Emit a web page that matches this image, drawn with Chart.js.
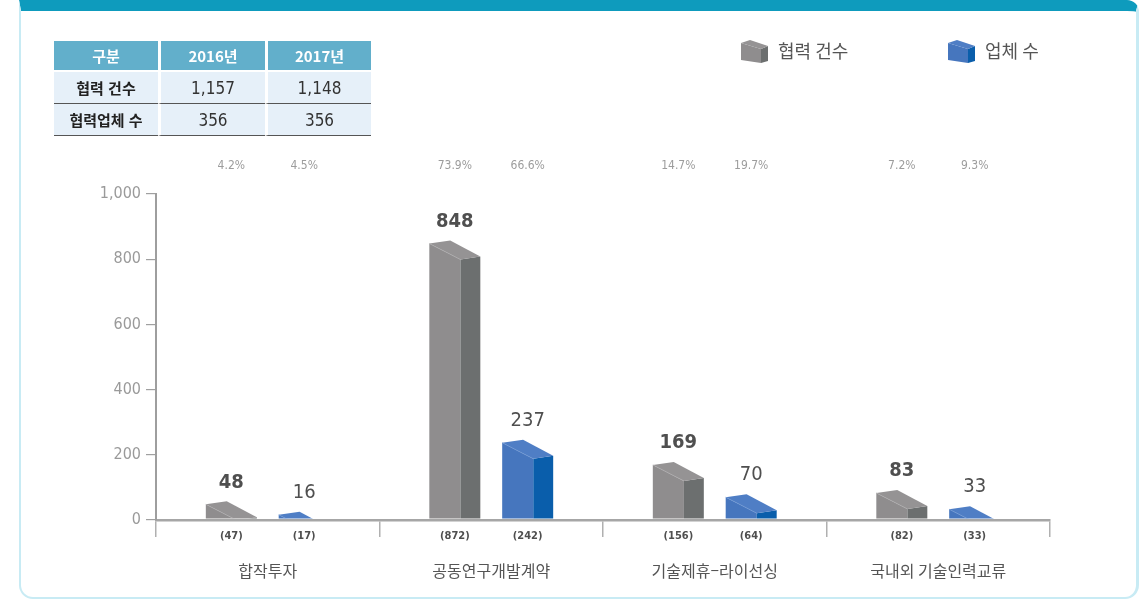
<!DOCTYPE html>
<html lang="ko">
<head>
<meta charset="utf-8">
<script src="https://cdn.jsdelivr.net/npm/chart.js@4.4.1/dist/chart.umd.min.js"></script>
<style>
  html, body { margin:0; padding:0; background:#fff; width:1147px; height:600px; overflow:hidden; }
  #wrap { position:relative; width:1147px; height:600px; }
  #frame { position:absolute; left:19px; top:0; width:1115px; height:586px;
           border-left:2px solid #c8ebf4; border-right:3px solid #c8ebf4; border-bottom:2px solid #c8ebf4;
           border-top:11px solid #0e9bbd; border-radius:0 12px 14px 14px; box-sizing:content-box; }
  canvas { position:absolute; left:0; top:0; }
  table { position:absolute; left:54px; top:41px; border-collapse:separate; border-spacing:0;
          font-family:"Noto Sans CJK KR","Noto Sans",sans-serif; }
  td, th { text-align:center; padding:0; }
  th { background:#62afcb; color:#fff; font-weight:700; font-size:15px; height:29px; border-bottom:2px solid #fff; }
  td { background:#e6f0f9; height:31px; border-bottom:1px solid #555; color:#333; font-size:17px; font-family:"DejaVu Sans Condensed","Roboto","Noto Sans CJK KR",sans-serif; }
  td.lab { font-weight:700; font-size:15px; color:#222; font-family:"Noto Sans CJK KR",sans-serif; }
  .gap { border-left:3px solid #fff; }
</style>
</head>
<body>
<div id="wrap">
  <div id="frame"></div>
  <canvas id="c" width="1147" height="600"></canvas>
  <table id="tbl"></table>
</div>
<script>
// ---- data ----
const categories = ['합작투자', '공동연구개발계약', '기술제휴–라이선싱', '국내외 기술인력교류'];
const seriesNames = ['협력 건수', '업체 수'];
const cooperationCounts = [48, 848, 169, 83];      // 2017 협력 건수
const companyCounts = [16, 237, 70, 33];           // 2017 업체 수
const prevCooperation = ['(47)', '(872)', '(156)', '(82)'];
const prevCompany = ['(17)', '(242)', '(64)', '(33)'];
const cooperationShare = ['4.2%', '73.9%', '14.7%', '7.2%'];
const companyShare = ['4.5%', '66.6%', '19.7%', '9.3%'];
const yTickMax = 1000;
const yTickStep = 200;
const tableHeader = ['구분', '2016년', '2017년'];
const tableRowLabels = ['협력 건수', '협력업체 수'];
const tableValues2016 = ['1,157', '356'];
const tableValues2017 = ['1,148', '356'];

// ---- table ----
(function(){
  const t = document.getElementById('tbl');
  const widths = [104, 104, 103];
  let h = '<tr>' + tableHeader.map((s,i)=>`<th class="${i?'gap':''}" style="width:${widths[i]}px">${s}</th>`).join('') + '</tr>';
  tableRowLabels.forEach((lab, r) => {
    h += `<tr><td class="lab">${lab}</td><td class="gap">${tableValues2016[r]}</td><td class="gap">${tableValues2017[r]}</td></tr>`;
  });
  t.innerHTML = h;
})();

const palettes = [
  { front:'#8f8d8e', top:'#959394', side:'#6c6f6f', edge:'#aeacad' },
  { front:'#4676be', top:'#4f7ec5', side:'#0a5eab', edge:'#7098d2' }
];

function draw3DBar(ctx, x, y, width, base, pal, topClip) {
  const xL = x - width / 2, xR = x + width / 2;
  const xM = xL + width * 0.61;
  const xB = xL + width * 0.41;
  ctx.save();
  ctx.beginPath();
  ctx.rect(xL - 5, topClip, width + 10, base - topClip - 1);
  ctx.clip();
  ctx.fillStyle = pal.front;
  ctx.beginPath();
  ctx.moveTo(xL, y); ctx.lineTo(xM, y + 16); ctx.lineTo(xM, base); ctx.lineTo(xL, base); ctx.closePath();
  ctx.fill();
  ctx.fillStyle = pal.side;
  ctx.beginPath();
  ctx.moveTo(xM, y + 16); ctx.lineTo(xR, y + 13); ctx.lineTo(xR, base); ctx.lineTo(xM, base); ctx.closePath();
  ctx.fill();
  ctx.fillStyle = pal.top;
  ctx.beginPath();
  ctx.moveTo(xL, y); ctx.lineTo(xB, y - 3); ctx.lineTo(xR, y + 13); ctx.lineTo(xM, y + 16); ctx.closePath();
  ctx.fill();
  ctx.strokeStyle = pal.edge; ctx.lineWidth = 0.7;
  ctx.beginPath(); ctx.moveTo(xL, y); ctx.lineTo(xM, y + 16); ctx.stroke();
  ctx.restore();
}

function drawCube(ctx, x, y, pal) {
  ctx.fillStyle = pal.front;
  ctx.beginPath();
  ctx.moveTo(x, y + 3); ctx.lineTo(x + 20, y + 9); ctx.lineTo(x + 20, y + 23); ctx.lineTo(x, y + 20); ctx.closePath(); ctx.fill();
  ctx.fillStyle = pal.side;
  ctx.beginPath();
  ctx.moveTo(x + 20, y + 9); ctx.lineTo(x + 27, y + 6); ctx.lineTo(x + 27, y + 21); ctx.lineTo(x + 20, y + 23); ctx.closePath(); ctx.fill();
  ctx.fillStyle = pal.top;
  ctx.beginPath();
  ctx.moveTo(x, y + 3); ctx.lineTo(x + 9, y); ctx.lineTo(x + 27, y + 6); ctx.lineTo(x + 20, y + 9); ctx.closePath(); ctx.fill();
}

const barPlugin = {
  id: 'bar3d',
  afterDatasetsDraw(chart) {
    const ctx = chart.ctx;
    const area = chart.chartArea;
    const shares = [cooperationShare, companyShare];
    const prevs = [prevCooperation, prevCompany];
    chart.data.datasets.forEach((ds, di) => {
      const meta = chart.getDatasetMeta(di);
      meta.data.forEach((bar, i) => {
        const p = bar.getProps(['x', 'y', 'base', 'width'], true);
        draw3DBar(ctx, p.x, p.y, p.width, p.base, palettes[di], area.top - 40);
        ctx.save();
        ctx.fillStyle = '#4f4f4f';
        ctx.textAlign = 'center';
        ctx.textBaseline = 'middle';
        ctx.font = (di === 0 ? '700 ' : '500 ') + '20px "DejaVu Sans Condensed", Roboto, sans-serif';
        ctx.fillText(String(ds.data[i]), p.x, p.y - 22);
        ctx.fillStyle = '#9c9c9c';
        ctx.font = '12px "DejaVu Sans Condensed", Roboto, sans-serif';
        ctx.fillText(shares[di][i], p.x, 166);
        ctx.fillStyle = '#4f4f4f';
        ctx.font = '600 11px "DejaVu Sans Condensed", Roboto, sans-serif';
        ctx.fillText(prevs[di][i], p.x, p.base + 17);
        ctx.restore();
      });
    });
    const xs = chart.scales.x;
    ctx.save();
    ctx.fillStyle = '#555';
    ctx.textAlign = 'center';
    ctx.textBaseline = 'middle';
    ctx.font = '16px "Noto Sans CJK KR", sans-serif';
    categories.forEach((c, i) => ctx.fillText(c, xs.getPixelForValue(i), 571));
    ctx.restore();
    ctx.save();
    ctx.textBaseline = 'middle';
    ctx.textAlign = 'left';
    ctx.font = '18px "Noto Sans CJK KR", sans-serif';
    const lx = [741, 948];
    seriesNames.forEach((n, i) => {
      drawCube(ctx, lx[i], 40, palettes[i]);
      ctx.fillStyle = '#555';
      ctx.fillText(n, lx[i] + 37, 51);
    });
    ctx.restore();
  }
};

new Chart(document.getElementById('c'), {
  type: 'bar',
  data: {
    labels: categories,
    datasets: [
      { label: seriesNames[0], data: cooperationCounts, backgroundColor: 'rgba(0,0,0,0)', borderWidth: 0 },
      { label: seriesNames[1], data: companyCounts, backgroundColor: 'rgba(0,0,0,0)', borderWidth: 0 }
    ]
  },
  options: {
    responsive: false,
    animation: false,
    devicePixelRatio: 1,
    categoryPercentage: 0.652,
    barPercentage: 0.7,
    layout: { padding: { left: 0, top: 194, right: 97, bottom: 0 } },
    plugins: { legend: { display: false }, tooltip: { enabled: false } },
    scales: {
      x: {
        afterFit(s) { s.height = 80; },
        grid: { display: true, drawOnChartArea: false, offset: true, tickLength: 17, color: '#b0b0b0', lineWidth: 1.5 },
        border: { display: true, color: '#a6a6a6', width: 2.5 },
        ticks: { display: false }
      },
      y: {
        min: 0, max: yTickMax,
        afterFit(s) { s.width = 156; },
        grid: { drawOnChartArea: false, tickLength: 10, color: '#a0a0a0', lineWidth: 1.2 },
        border: { display: true, color: '#9e9e9e', width: 2 },
        ticks: {
          stepSize: yTickStep, padding: 5, color: '#9a9a9a',
          font: { size: 16, weight: '500', family: '"DejaVu Sans Condensed", Roboto, sans-serif' },
          callback: (v) => v.toLocaleString('en-US')
        }
      }
    }
  },
  plugins: [barPlugin]
});
</script>
</body>
</html>
